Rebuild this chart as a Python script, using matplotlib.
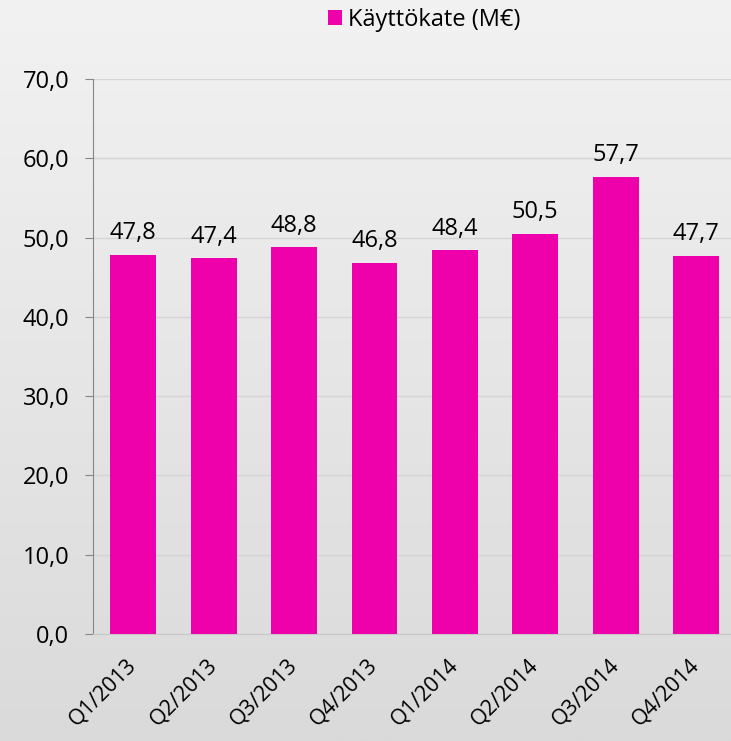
import matplotlib.pyplot as plt
import numpy as np

quarters = ["Q1/2013", "Q2/2013", "Q3/2013", "Q4/2013",
            "Q1/2014", "Q2/2014", "Q3/2014", "Q4/2014"]
ebitda = [47.8, 47.4, 48.8, 46.8, 48.4, 50.5, 57.7, 47.7]
yticks = [0, 10, 20, 30, 40, 50, 60, 70]

plt.rcParams['font.family'] = ['Open Sans', 'DejaVu Sans']

fig = plt.figure(figsize=(7.31, 7.41), dpi=100)

# background gradient (light gray, darker toward bottom)
bg = fig.add_axes([0, 0, 1, 1])
grad = np.linspace(0, 1, 256).reshape(-1, 1)
bg.imshow(grad, aspect='auto', cmap=plt.cm.colors.LinearSegmentedColormap.from_list(
    'g', ['#f2f2f2', '#dadada']), extent=[0, 1, 0, 1])
bg.axis('off')

ax = fig.add_axes([0.1272, 0.1444, 0.88, 0.749])
ax.patch.set_alpha(0)
x = np.arange(len(quarters))
bars = ax.bar(x, ebitda, width=0.57, color='#EE00AA', label='Käyttökate (M€)', zorder=3)

for xi, v in zip(x, ebitda):
    ax.text(xi, v + 1.2, f"{v:.1f}".replace('.', ','), ha='center', va='bottom',
            fontsize=17, color='black')

ax.set_xlim(-0.5, 7.5)
ax.set_ylim(0, 70)
ax.set_yticks(yticks)
ax.set_yticklabels([f"{t:.1f}".replace('.', ',') for t in yticks], fontsize=17)
ax.set_xticks(x)
ax.set_xticklabels(quarters, rotation=45, ha='right', va='center',
                   rotation_mode='anchor', fontsize=15.5)
ax.tick_params(axis='y', length=6, color='#868686', pad=11)
ax.tick_params(axis='x', length=0, pad=20)
ax.grid(axis='y', color='#d4d4d4', linewidth=1, zorder=0)
for s in ['top', 'right']:
    ax.spines[s].set_visible(False)
ax.spines['left'].set_color('#868686')
ax.spines['bottom'].set_color('#c8c8c8')

fig.legend(handles=[bars], labels=['Käyttökate (M€)'], loc='center',
           bbox_to_anchor=(0.58, 0.973), frameon=False, fontsize=17,
           handlelength=0.6, handleheight=0.6, handletextpad=0.25)

fig.savefig('out.png', dpi=100)
